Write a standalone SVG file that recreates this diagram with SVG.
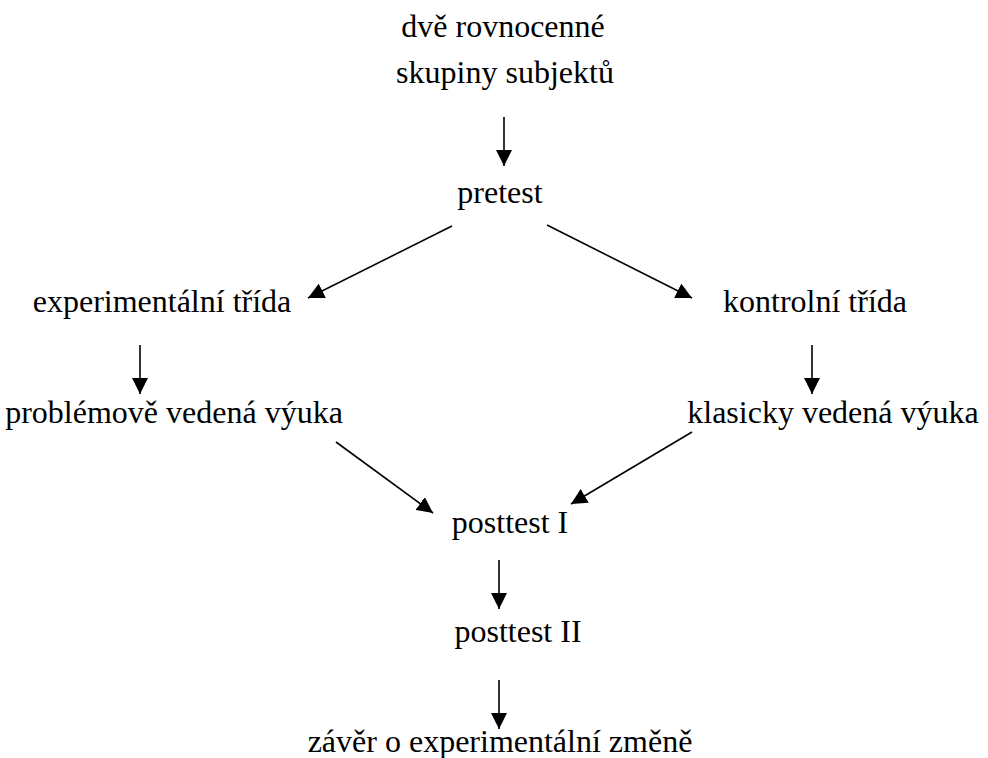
<svg xmlns="http://www.w3.org/2000/svg" width="988" height="758" viewBox="0 0 988 758">
<style>
text{font-family:"Liberation Serif","Times New Roman",serif;font-size:32px;fill:#000;text-anchor:middle}
.c line{stroke:#000;stroke-width:1.6;marker-end:url(#ah)}
</style>
<defs>
<marker id="ah" markerUnits="userSpaceOnUse" markerWidth="17" markerHeight="16" refX="16" refY="8" orient="auto" viewBox="0 0 17 16">
<path d="M0,0 L16,8 L0,16 z" fill="#000"/>
</marker>
</defs>
<rect width="988" height="758" fill="#fff"/>
<g id="n-skupiny"><text x="503" y="37">dvě rovnocenné</text><text x="505" y="83">skupiny subjektů</text></g>
<g id="n-pretest"><text x="500" y="203">pretest</text></g>
<g id="n-exp"><text x="162" y="312">experimentální třída</text></g>
<g id="n-kontrol"><text x="815" y="312">kontrolní třída</text></g>
<g id="n-prob"><text x="174" y="423">problémově vedená výuka</text></g>
<g id="n-klas"><text x="833" y="423">klasicky vedená výuka</text></g>
<g id="n-post1"><text x="510" y="533">posttest I</text></g>
<g id="n-post2"><text x="518" y="642">posttest II</text></g>
<g id="n-zaver"><text x="500" y="752">závěr o experimentální změně</text></g>
<g class="c" id="connectors">
<line x1="504" y1="117" x2="504" y2="166"/>
<line x1="452" y1="226" x2="308" y2="298"/>
<line x1="547" y1="225" x2="692" y2="298"/>
<line x1="140" y1="345" x2="140" y2="394"/>
<line x1="812" y1="345" x2="812" y2="394"/>
<line x1="336" y1="442" x2="433" y2="513"/>
<line x1="692" y1="432" x2="571" y2="504"/>
<line x1="499" y1="560" x2="499" y2="609"/>
<line x1="499" y1="680" x2="499" y2="729"/>
</g>
</svg>
